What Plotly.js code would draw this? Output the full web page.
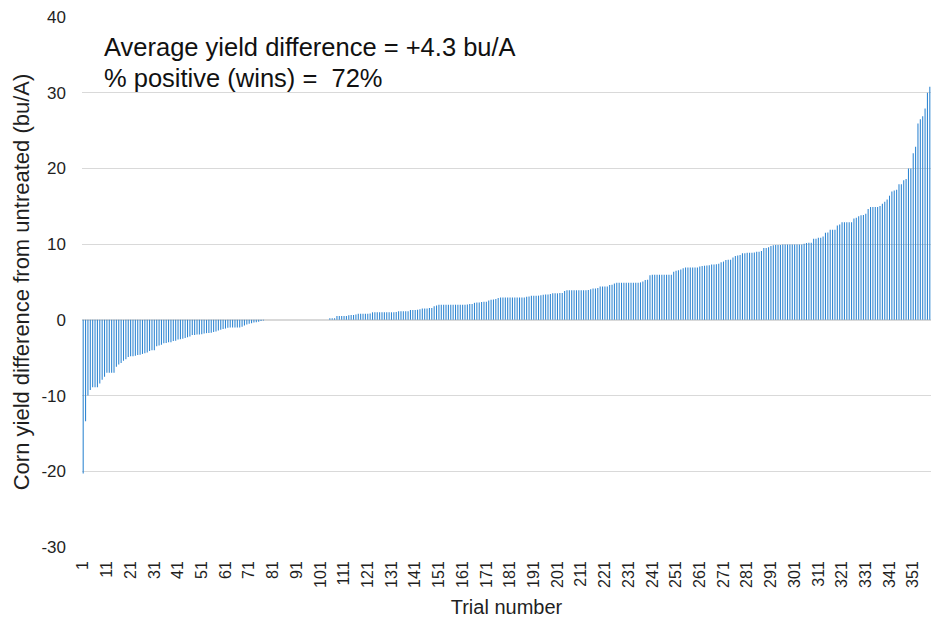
<!DOCTYPE html>
<html>
<head>
<meta charset="utf-8">
<script src="https://cdn.plot.ly/plotly-3.0.1.min.js"></script>
<style>
  html, body { margin: 0; padding: 0; background: #ffffff; }
  #chart { width: 931px; height: 619px; }
</style>
</head>
<body>
<div id="chart"></div>
<script>
// Sorted yield differences (bu/A), by segment
const yieldDiffNegative = [
  -20.3, -13.4, -10.0, -9.25, -8.9, -8.9, -8.9, -8.4, -7.9, -7.5,
  -7.0, -7.0, -7.0, -7.0, -6.2, -5.9, -5.7, -5.4, -5.2, -4.9,
  -4.8, -4.8, -4.75, -4.65, -4.6, -4.5, -4.4, -4.3, -4.1, -4.0,
  -4.0, -3.5, -3.4, -3.3, -3.1, -3.05, -2.95, -2.95, -2.8, -2.75,
  -2.6, -2.55, -2.5, -2.4, -2.3, -2.2, -2.0, -2.0, -1.95, -1.95,
  -1.9, -1.8, -1.75, -1.72, -1.7, -1.6, -1.55, -1.4, -1.3, -1.2,
  -1.15, -1.05, -1.0, -1.0, -1.0, -1.0, -1.0, -0.9, -0.75, -0.6,
  -0.5, -0.45, -0.35, -0.3, -0.25, -0.15, -0.1
];
const yieldDiffZero = [
  0, 0, 0, 0, 0, 0, 0, 0, 0, 0,
  0, 0, 0, 0, 0, 0, 0, 0, 0, 0,
  0, 0, 0, 0, 0, 0, 0
];
const yieldDiffLow = [
  0.2, 0.2, 0.2, 0.5, 0.5, 0.5, 0.5, 0.5, 0.6, 0.65,
  0.65, 0.7, 0.8, 0.8, 0.8, 0.8, 0.8, 0.85, 1.0, 1.0,
  1.0, 1.0, 1.0, 1.0, 1.0, 1.0, 1.0, 1.0, 1.05, 1.15,
  1.15, 1.15, 1.15, 1.15, 1.3, 1.3, 1.3, 1.35, 1.4, 1.5,
  1.5, 1.5, 1.55, 1.55, 1.8, 1.9, 2.0, 2.0, 2.0, 2.0,
  2.0, 2.0, 2.0, 2.0, 2.0, 2.0
];
const yieldDiffMid = [
  1.98, 2.0, 2.02, 2.1, 2.1, 2.25, 2.3, 2.3, 2.35, 2.4,
  2.4, 2.55, 2.65, 2.7, 2.75, 2.9, 2.95, 2.95, 2.95, 2.95,
  2.95, 2.95, 2.95, 2.95, 2.95, 2.95, 2.95, 3.05, 3.1, 3.2,
  3.2, 3.2, 3.2, 3.25, 3.3, 3.35, 3.35, 3.4, 3.5, 3.5,
  3.5, 3.55, 3.55, 3.8, 3.9, 3.9, 3.9, 3.9, 3.9, 3.9,
  3.9, 3.9, 3.9, 3.95, 4.05, 4.15, 4.15, 4.2, 4.4, 4.4,
  4.4, 4.4, 4.6, 4.65, 4.8, 4.9, 4.9, 4.9, 4.9, 4.9,
  4.9, 4.9, 4.9, 4.9, 4.9, 4.95, 5.05, 5.25, 5.3, 5.9,
  5.95, 5.95, 5.95, 5.95, 5.95, 5.95, 5.95, 5.95, 5.95, 6.35,
  6.5, 6.55, 6.65, 6.8, 6.9, 6.9, 6.9, 6.9, 6.9, 6.9,
  7.05, 7.1, 7.15, 7.18, 7.2
];
const yieldDiffHigh = [
  7.3, 7.3, 7.35, 7.4, 7.6, 7.7, 7.9, 7.95, 7.95, 8.25,
  8.45, 8.5, 8.55, 8.8, 8.8, 8.85, 8.85, 8.85, 8.9, 9.0,
  9.0, 9.1, 9.5, 9.5, 9.6, 9.75, 9.85, 9.9, 9.9, 9.9,
  9.95, 9.95, 9.95, 9.95, 9.95, 9.95, 9.95, 9.95, 9.95, 10.05,
  10.15, 10.2, 10.2, 10.7, 10.7, 10.85, 10.85, 11.0, 11.5, 11.55,
  11.9, 11.9, 11.9, 12.45, 12.6, 12.9, 12.9, 12.9, 12.9, 12.9,
  13.4, 13.5, 13.7, 13.8, 13.85, 14.0, 14.65, 14.9, 14.9, 14.9,
  14.9, 15.05, 15.35, 15.6, 15.9, 16.4, 16.95, 17.1, 17.2, 17.9,
  17.9, 18.45, 18.6, 20.0, 20.0, 22.0, 22.85, 25.95, 26.5, 26.9,
  27.9, 30.0, 30.8
];
const tickLabels = ["1","11","21","31","41","51","61","71","81","91","101","111","121","131","141",
  "151","161","171","181","191","201","211","221","231","241","251","261","271","281","291",
  "301","311","321","331","341","351"];
const yTickVals = [-30, -20, -10, 0, 10, 20, 30, 40];
const yTickLabels = ["-30", "-20", "-10", "0", "10", "20", "30", "40"];
const noteLines = ["Average yield difference = +4.3 bu/A", "% positive (wins) =  72%"];

const yieldDiff = [].concat(yieldDiffNegative, yieldDiffZero, yieldDiffLow, yieldDiffMid, yieldDiffHigh);
const trials = yieldDiff.map((v, i) => i + 1);
const tickVals = tickLabels.map(Number);

const FONT = "Liberation Sans, Arial, sans-serif";

const trace = {
  type: 'bar',
  x: trials,
  y: yieldDiff,
  marker: { color: '#2F86D2', line: { width: 0 } },
  hoverinfo: 'x+y'
};

const layout = {
  width: 931,
  height: 619,
  margin: { l: 82, r: 0, t: 17, b: 72 },
  paper_bgcolor: '#ffffff',
  plot_bgcolor: '#ffffff',
  bargap: 0.55,
  showlegend: false,
  font: { family: FONT, color: '#1f1f1f' },
  xaxis: {
    range: [0.5, yieldDiff.length + 0.5],
    tickmode: 'array',
    tickvals: tickVals,
    ticktext: tickLabels,
    tickangle: -90,
    tickfont: { family: FONT, size: 16, color: '#1f1f1f' },
    ticks: '',
    ticklabelstandoff: 10,
    showgrid: false,
    zeroline: false,
    showline: false,
    title: { text: 'Trial number', font: { family: FONT, size: 20, color: '#1f1f1f' }, standoff: 13 }
  },
  yaxis: {
    range: [-30, 40],
    tickmode: 'array',
    tickvals: yTickVals,
    ticktext: yTickLabels,
    tickfont: { family: FONT, size: 17, color: '#1f1f1f' },
    ticks: '',
    ticklabelstandoff: 15,
    showgrid: true,
    gridcolor: '#D9D9D9',
    gridwidth: 1,
    zeroline: true,
    zerolinecolor: '#D9D9D9',
    zerolinewidth: 2,
    showline: false,
    title: { text: 'Corn yield difference from untreated (bu/A)', font: { family: FONT, size: 22, color: '#1f1f1f' }, standoff: 5 }
  },
  shapes: [{
    type: 'rect', xref: 'paper', yref: 'paper',
    x0: 0.0071, x1: 0.9317, y0: 0.8717, y1: 0.9868,
    fillcolor: '#ffffff', line: { width: 0 }, layer: 'above'
  }],
  annotations: [
    { xref: 'paper', yref: 'paper', x: 0.0236, y: 0.9434, xanchor: 'left', yanchor: 'middle',
      text: noteLines[0], showarrow: false, align: 'left',
      font: { family: FONT, size: 25.5, color: '#111111' } },
    { xref: 'paper', yref: 'paper', x: 0.0236, y: 0.8857, xanchor: 'left', yanchor: 'middle',
      text: noteLines[1], showarrow: false, align: 'left',
      font: { family: FONT, size: 25.5, color: '#111111' } }
  ]
};

Plotly.newPlot('chart', [trace], layout, { staticPlot: true, displayModeBar: false });
</script>
</body>
</html>
